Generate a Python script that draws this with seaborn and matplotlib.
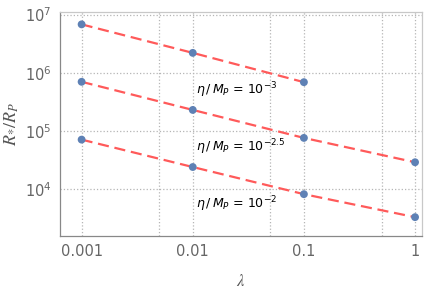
import matplotlib
matplotlib.use("Agg")
import matplotlib.pyplot as plt
import matplotlib.ticker as mticker
import seaborn as sns
import pandas as pd

# Données
lam = [0.001, 0.01, 0.1, 1]
r_eta_m3 = [6.8e6, 2.2e6, 6.9e5]          # eta/M_P = 1e-3 (pas de point en 1)
r_eta_m25 = [7.0e5, 2.3e5, 7.6e4, 2.9e4]  # eta/M_P = 1e-2.5
r_eta_m2 = [7.1e4, 2.4e4, 8.2e3, 3.3e3]   # eta/M_P = 1e-2
labels = ["$\\eta\\,/\\,M_P$ = $10^{-3}$",
          "$\\eta\\,/\\,M_P$ = $10^{-2.5}$",
          "$\\eta\\,/\\,M_P$ = $10^{-2}$"]

rows = []
for name, vals in zip(["-3", "-2.5", "-2"], [r_eta_m3, r_eta_m25, r_eta_m2]):
    for x, y in zip(lam, vals):
        rows.append({"lam": x, "R": y, "serie": name})
df = pd.DataFrame(rows)

sns.set_style("white")
fig, ax = plt.subplots(figsize=(4.36, 3.03), dpi=100)
fig.subplots_adjust(left=0.138, right=0.968, bottom=0.221, top=0.960)

# Lignes en tirets rouges puis points bleus
sns.lineplot(data=df, x="lam", y="R", units="serie", estimator=None,
             color="#FF5A5A", linewidth=1.6, dashes=False, ax=ax, zorder=2)
for line in ax.get_lines():
    line.set_dashes((5, 2.6))
sns.scatterplot(data=df, x="lam", y="R", color="#5E81B5", s=32,
                edgecolor="none", ax=ax, zorder=3)

ax.set_xscale("log")
ax.set_yscale("log")
ax.set_xlim(10 ** -3.193, 10 ** 0.063)
ax.set_ylim(10 ** 3.194, 10 ** 7.043)

# Graduations
ax.xaxis.set_major_locator(mticker.FixedLocator([0.001, 0.01, 0.1, 1]))
ax.xaxis.set_major_formatter(mticker.FixedFormatter(["0.001", "0.01", "0.1", "1"]))
ax.xaxis.set_minor_locator(mticker.FixedLocator([0.005, 0.05, 0.5]))
ax.xaxis.set_minor_formatter(mticker.NullFormatter())
ax.yaxis.set_major_locator(mticker.FixedLocator([1e4, 1e5, 1e6, 1e7]))
ax.yaxis.set_major_formatter(mticker.FixedFormatter(["$10^4$", "$10^5$", "$10^6$", "$10^7$"]))
ax.yaxis.set_minor_locator(mticker.NullLocator())
ax.tick_params(axis="both", which="major", direction="in", length=4, width=0.8,
               color="#888888", labelcolor="#666666", labelsize=10.5, pad=6)
ax.tick_params(axis="x", which="minor", direction="in", length=2.5, width=0.6,
               color="#888888")

# Grille pointillée
ax.grid(True, which="both", axis="x", linestyle=":", color="#b5b5b5", linewidth=0.9)
ax.grid(True, which="major", axis="y", linestyle=":", color="#b5b5b5", linewidth=0.9)
ax.set_axisbelow(True)

for side in ["left", "bottom"]:
    ax.spines[side].set_color("#888888")
    ax.spines[side].set_linewidth(0.9)
for side in ["top", "right"]:
    ax.spines[side].set_color("#c8c8c8")
    ax.spines[side].set_linewidth(0.9)

ax.set_xlabel("$\\lambda$", math_fontfamily="stix", fontsize=12, color="#555555",
              labelpad=9)
ax.set_ylabel("$R_{*}/R_P$", math_fontfamily="stix", fontsize=13, color="#555555",
              labelpad=3)

# Étiquettes des séries
for txt, yv in zip(labels, [5.0e5, 5.3e4, 5.6e3]):
    ax.text(0.0108, yv, txt, fontsize=9, color="black", va="center", ha="left",
            math_fontfamily="dejavusans")

plt.savefig("out.png", dpi=100)
plt.close()
